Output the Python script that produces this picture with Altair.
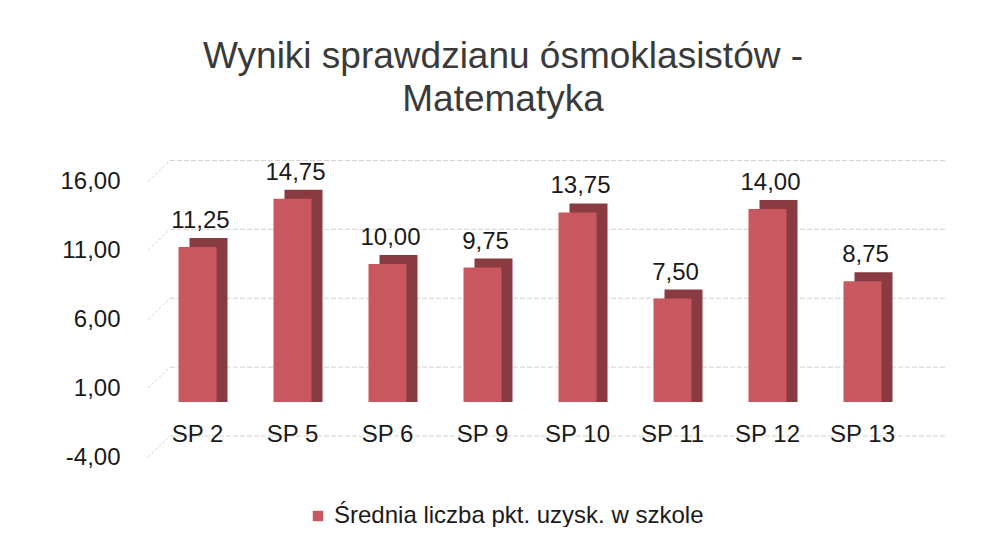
import altair as alt
import pandas as pd

schools = ["SP 2", "SP 5", "SP 6", "SP 9", "SP 10", "SP 11", "SP 12", "SP 13"]
values = [11.25, 14.75, 10.00, 9.75, 13.75, 7.50, 14.00, 8.75]
tick_values = [-4, 1, 6, 11, 16]
series_name = "Średnia liczba pkt. uzysk. w szkole"
title_lines = ["Wyniki sprawdzianu ósmoklasistów -", "Matematyka"]

df = pd.DataFrame({"school": schools, "value": values, "series": series_name})
ticks_df = pd.DataFrame({"t": tick_values})

FONT = "Liberation Sans"
FRONT = "#c9575f"
DARK = "#8a3a41"
GRID = "#d2d2d2"
FMT = "replace(replace(format({v}, '.2f'), '.', ','), '\u2212', '-')"

xs = alt.X("school:N", sort=schools, axis=None,
           scale=alt.Scale(paddingInner=0.6, paddingOuter=0.3))
ys = alt.Scale(domain=[-4, 18.5], nice=False, zero=False)

base = alt.Chart(df)

# back-wall gridlines (3D look) with axis labels
grid = alt.Chart(ticks_df).mark_rule(
    color=GRID, strokeWidth=1, strokeDash=[5, 2], yOffset=-21
).encode(
    y=alt.Y("t:Q", scale=ys,
            axis=alt.Axis(values=tick_values, title=None, grid=False, domain=False,
                          ticks=False, labelFontSize=24, labelFont=FONT,
                          labelColor="#1a1a1a", labelPadding=30,
                          labelExpr=FMT.format(v="datum.value"))),
    x=alt.value(20), x2=alt.value(795),
)

# slanted connectors from the front axis to the back wall
conn = alt.Chart(ticks_df).mark_rule(
    color=GRID, strokeWidth=1, strokeDash=[3, 2], y2Offset=-21
).encode(
    y=alt.Y("t:Q", scale=ys), y2=alt.Y2("t:Q"),
    x=alt.value(-2), x2=alt.value(20),
)

back = base.mark_bar(width=38, color=DARK, xOffset=11, yOffset=-9).encode(
    x=xs, y=alt.Y("value:Q", scale=ys), y2=alt.datum(0)
)

front = base.mark_bar(width=38).encode(
    x=xs, y=alt.Y("value:Q", scale=ys), y2=alt.datum(0),
    color=alt.Color("series:N", scale=alt.Scale(range=[FRONT]),
                    legend=alt.Legend(title=None, orient="none", legendX=156, legendY=357,
                                      symbolType="square", symbolSize=110, labelLimit=0,
                                      labelFontSize=24, labelFont=FONT,
                                      labelColor="#1a1a1a", symbolStrokeWidth=0))
)

labels = base.transform_calculate(
    lab=FMT.format(v="datum.value")
).mark_text(fontSize=24, font=FONT, color="#1a1a1a", baseline="bottom", dy=-14, dx=3).encode(
    x=xs, y=alt.Y("value:Q", scale=ys), text="lab:N"
)

cats = base.mark_text(fontSize=24, font=FONT, color="#1a1a1a", baseline="middle").encode(
    x=xs, y=alt.datum(-2.4), text="school:N"
)

chart = alt.layer(grid, conn, back, front, labels, cats).properties(
    width=760, height=310,
    title=alt.Title(text=title_lines, fontSize=37, font=FONT, color="#3a3a3a",
                    fontWeight="normal", lineHeight=43, offset=28, anchor="middle", dx=-27),
    autosize=alt.AutoSizeParams(type="none"),
    padding={"left": 142, "top": 139, "right": 50, "bottom": 70},
).configure(background="white").configure_view(stroke=None, strokeWidth=0)

chart.save("out.html", embed_options={"renderer": "svg", "actions": False})
